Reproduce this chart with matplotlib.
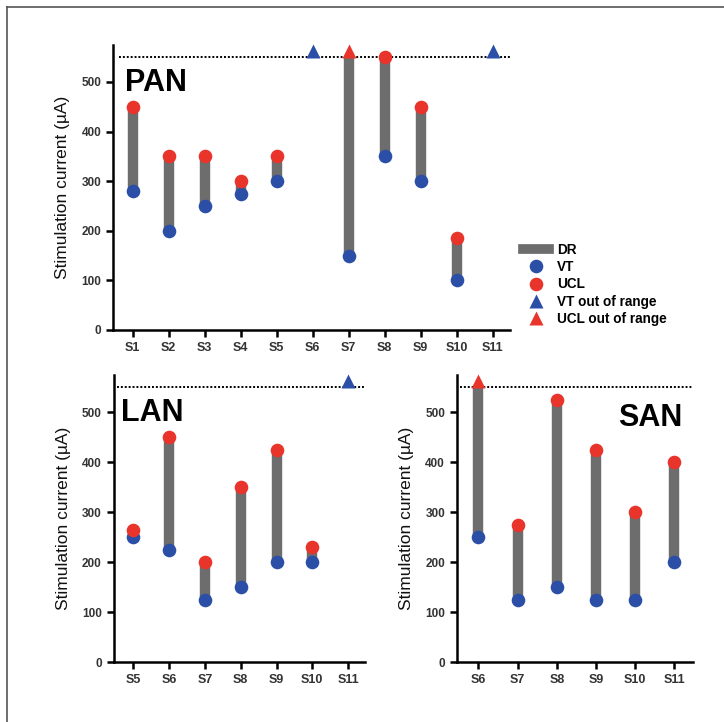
import numpy as np
import matplotlib
matplotlib.use('Agg')
import matplotlib.pyplot as plt
from matplotlib.lines import Line2D

plt.rcParams['font.family'] = ['Liberation Sans', 'DejaVu Sans']

# data (None = out of range, drawn as triangle above the 550 line)
pan_labels = ['S1', 'S2', 'S3', 'S4', 'S5', 'S6', 'S7', 'S8', 'S9', 'S10', 'S11']
pan_vt = [280, 200, 250, 275, 300, None, 150, 350, 300, 100, None]
pan_ucl = [450, 350, 350, 300, 350, None, None, 550, 450, 185, None]

lan_labels = ['S5', 'S6', 'S7', 'S8', 'S9', 'S10', 'S11']
lan_vt = [250, 225, 125, 150, 200, 200, None]
lan_ucl = [265, 450, 200, 350, 425, 230, None]

san_labels = ['S6', 'S7', 'S8', 'S9', 'S10', 'S11']
san_vt = [250, 125, 150, 125, 125, 200]
san_ucl = [None, 275, 525, 425, 300, 400]

limit = 550
tri_y = 563
grey = '#6d6d6d'
red = '#e8342b'
blue = '#2b4ea6'
ms_dot = 9.8
ms_tri = 10.5


def panel(ax, labels, vt, ucl, title, tx, ty, ha='left'):
    x = np.arange(1, len(labels) + 1)
    for xi, v, u in zip(x, vt, ucl):
        if v is None:
            ax.plot(xi, tri_y, marker='^', color=blue, ms=ms_tri, mec='none', clip_on=False, zorder=5)
            continue
        top = u if u is not None else limit
        ax.plot([xi, xi], [v, top], color=grey, lw=7.5, solid_capstyle='butt', zorder=2)
        ax.plot(xi, v, 'o', color=blue, ms=ms_dot, mec='none', zorder=4)
        if u is None:
            ax.plot(xi, tri_y, marker='^', color=red, ms=ms_tri, mec='none', clip_on=False, zorder=5)
        else:
            ax.plot(xi, u, 'o', color=red, ms=ms_dot, mec='none', zorder=4)
    ax.axhline(limit, xmin=0.015, color='black', ls=(0, (1, 1)), lw=1.4, zorder=1)
    ax.set_xlim(0.45, len(labels) + 0.47)
    ax.set_ylim(0, 575)
    ax.set_yticks([0, 100, 200, 300, 400, 500])
    ax.set_xticks(x)
    ax.set_xticklabels(labels)
    for s in ['top', 'right']:
        ax.spines[s].set_visible(False)
    for s in ['left', 'bottom']:
        ax.spines[s].set_linewidth(1.8)
    ax.tick_params(width=1.8, length=5, labelcolor='#333333')
    ax.tick_params(axis='x', labelsize=9)
    ax.tick_params(axis='y', labelsize=8.5)
    for t in ax.get_xticklabels() + ax.get_yticklabels():
        t.set_fontweight('bold')
    ax.set_ylabel('Stimulation current (µA)', fontsize=12.5, color='#111111', labelpad=8)
    ax.text(tx, ty, title, transform=ax.transAxes, ha=ha, va='top',
            fontsize=22, fontweight='bold')


fig = plt.figure(figsize=(7.24, 7.22), dpi=100)

ax1 = fig.add_axes([0.156, 0.543, 0.548, 0.395])
panel(ax1, pan_labels, pan_vt, pan_ucl, 'PAN', 0.03, 0.92)

ax2 = fig.add_axes([0.157, 0.083, 0.347, 0.398])
panel(ax2, lan_labels, lan_vt, lan_ucl, 'LAN', 0.03, 0.92)

ax3 = fig.add_axes([0.631, 0.083, 0.326, 0.398])
panel(ax3, san_labels, san_vt, san_ucl, 'SAN', 0.955, 0.9, ha='right')

handles = [
    Line2D([], [], color=grey, lw=7),
    Line2D([], [], ls='none', marker='o', color=blue, mec='none', ms=ms_dot),
    Line2D([], [], ls='none', marker='o', color=red, mec='none', ms=ms_dot),
    Line2D([], [], ls='none', marker='^', color=blue, mec='none', ms=ms_tri),
    Line2D([], [], ls='none', marker='^', color=red, mec='none', ms=ms_tri),
]
names = ['DR', 'VT', 'UCL', 'VT out of range', 'UCL out of range']
fig.legend(handles, names, loc='upper left', bbox_to_anchor=(0.705, 0.681),
           frameon=False, prop={'weight': 'bold', 'size': 9.8},
           handlelength=1.9, labelspacing=0.25, handletextpad=0.6)

# partial frame around the figure (left and top edges)
fig.add_artist(Line2D([0.009, 0.009], [0.0, 0.99], color='#555555', lw=1.2))
fig.add_artist(Line2D([0.009, 1.0], [0.99, 0.99], color='#555555', lw=1.2))

fig.savefig('out.png', dpi=100)
